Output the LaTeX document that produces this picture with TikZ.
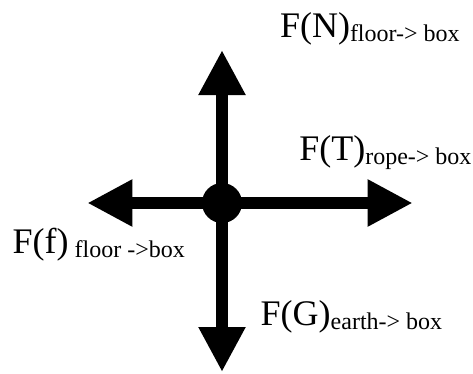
\documentclass[tikz,border=0pt]{standalone}
\usepackage{fontspec}
\setmainfont{Liberation Serif}
\usetikzlibrary{arrows.meta}
\newcommand{\bigF}[2]{{\fontsize{36}{40}\selectfont #1\raisebox{-4.5pt}{\fontsize{24}{26}\selectfont #2}}}
\begin{document}
\begin{tikzpicture}[x=1pt,y=1pt,
  force/.style={line width=12pt,-{Triangle[length=45pt,width=44pt]}},
  lbl/.style={anchor=base west,inner sep=0pt,outer sep=0pt}]
\useasboundingbox (0,0) rectangle (473,373);
\node[circle,fill=black,minimum size=40pt,inner sep=0pt] (c) at (222,170) {};
\coordinate (up) at (222,323);
\coordinate (down) at (222,1);
\coordinate (left) at (87.3,170);
\coordinate (right) at (412.7,170);
\draw[force] (c.center) -- (up);
\draw[force] (c.center) -- (down);
\draw[force] (c.center) -- (left);
\draw[force] (c.center) -- (right);
\node[lbl] (ln) at (280,335.7) {\bigF{F(N)}{floor-> box}};
\node[lbl] (lt) at (299.3,213) {\bigF{F(T)}{rope-> box}};
\node[lbl] (lf) at (12.7,119.7) {\bigF{F(f)}{ floor ->box}};
\node[lbl] (lg) at (260.7,48) {\bigF{F(G)}{earth-> box}};
\end{tikzpicture}
\end{document}
